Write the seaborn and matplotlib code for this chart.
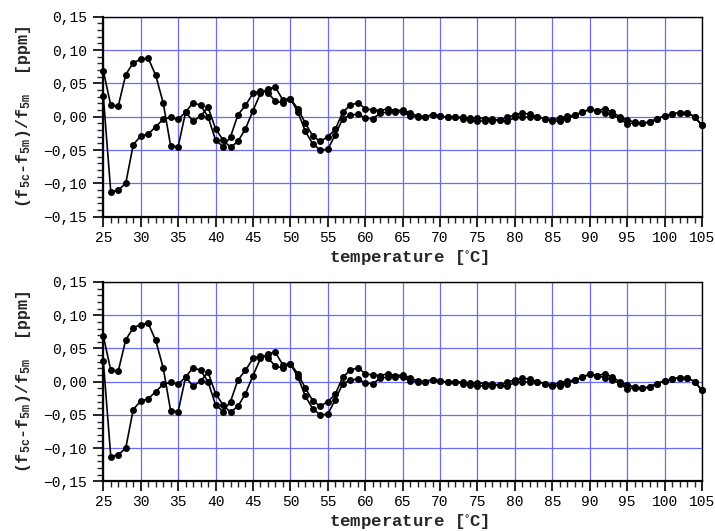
import numpy as np
import pandas as pd
import matplotlib
matplotlib.use("Agg")
import matplotlib.pyplot as plt
from matplotlib.ticker import MultipleLocator, FuncFormatter
import seaborn as sns

temperature = list(range(25, 106))

series_a = [0.069, 0.017, 0.016, 0.063, 0.081, 0.086, 0.088, 0.062, 0.021, -0.044,
            -0.045, 0.007, 0.021, 0.017, 0.000, -0.035, -0.045, -0.030, 0.003, 0.017,
            0.035, 0.039, 0.036, 0.023, 0.021, 0.027, 0.012, -0.010, -0.029, -0.037,
            -0.030, -0.019, 0.007, 0.017, 0.021, 0.012, 0.010, 0.009, 0.012, 0.009,
            0.010, 0.006, 0.001, 0.000, 0.003, 0.001, -0.001, 0.000, -0.001, -0.002,
            -0.002, -0.003, -0.004, -0.005, -0.001, 0.003, 0.005, 0.004, 0.000, -0.003,
            -0.005, -0.002, 0.001, 0.002, 0.007, 0.011, 0.009, 0.012, 0.007, 0.000,
            -0.005, -0.008, -0.010, -0.008, -0.003, 0.001, 0.004, 0.006, 0.006, 0.000,
            -0.013]

series_b = [0.031, -0.113, -0.110, -0.100, -0.042, -0.029, -0.026, -0.015, -0.004, -0.001,
            -0.004, 0.007, -0.007, 0.001, 0.014, -0.018, -0.035, -0.046, -0.037, -0.018,
            0.009, 0.035, 0.042, 0.044, 0.025, 0.027, 0.007, -0.022, -0.041, -0.050,
            -0.049, -0.027, -0.003, 0.002, 0.004, -0.002, -0.003, 0.005, 0.007, 0.007,
            0.007, 0.001, 0.000, 0.000, 0.003, 0.001, -0.001, 0.000, -0.003, -0.005,
            -0.007, -0.006, -0.006, -0.005, -0.007, -0.001, 0.000, -0.001, 0.000, -0.003,
            -0.007, -0.006, -0.003, 0.002, 0.007, 0.011, 0.009, 0.006, 0.003, -0.003,
            -0.011, -0.009, -0.010, -0.008, -0.003, 0.001, 0.004, 0.006, 0.006, 0.000,
            -0.013]

df = pd.DataFrame({
    "temperature": temperature * 2,
    "value": series_a + series_b,
    "series": ["a"] * len(series_a) + ["b"] * len(series_b),
})

sns.set_style("white")
plt.rcParams["font.family"] = ["Liberation Mono", "DejaVu Sans Mono"]
plt.rcParams["mathtext.default"] = "regular"

fig = plt.figure(figsize=(7.15, 5.31), dpi=100)
W, H = 715, 531
left = 103.3 / W
width = (702 - 103.3) / W
ax_top = fig.add_axes([left, 1 - 216.7 / H, width, 200 / H])
ax_bot = fig.add_axes([left, 1 - 481.3 / H, width, 199.3 / H])

fmt = FuncFormatter(lambda v, p: ("%.2f" % v).replace(".", ",").replace("-", "\u2212")
                    if abs(v) > 1e-9 else "0,00")

ylabel = r"(f$_{5c}$-f$_{5m}$)/f$_{5m}$  [ppm]"

for ax in (ax_top, ax_bot):
    for s in ("a", "b"):
        sns.lineplot(data=df[df["series"] == s], x="temperature", y="value", ax=ax,
                     color="black", marker="o", markersize=5, markeredgewidth=0,
                     linewidth=1.2, legend=False, zorder=3, clip_on=False)
    ax.set_xlim(25, 105)
    ax.set_ylim(-0.15, 0.15)
    ax.xaxis.set_major_locator(MultipleLocator(5))
    ax.xaxis.set_minor_locator(MultipleLocator(1))
    ax.yaxis.set_major_locator(MultipleLocator(0.05))
    ax.yaxis.set_minor_locator(MultipleLocator(0.01))
    ax.yaxis.set_major_formatter(fmt)
    ax.grid(True, which="major", color="#6a6aff", linewidth=0.9)
    ax.tick_params(axis="both", which="major", direction="out", length=7, width=1.2,
                   labelsize=10.5, colors="black", left=True, bottom=True)
    ax.tick_params(axis="both", which="minor", direction="out", length=4, width=1.0,
                   left=True, bottom=True)
    ax.tick_params(axis="y", which="major", pad=5)
    ax.tick_params(axis="x", which="major", pad=3)
    for side in ("left", "bottom"):
        ax.spines[side].set_linewidth(1.6)
        ax.spines[side].set_color("black")
    for side in ("top", "right"):
        ax.spines[side].set_linewidth(1.0)
        ax.spines[side].set_color("black")
    ax.set_xlabel(r"temperature [$^{\circ}$C]", fontsize=12.5, fontweight="bold", labelpad=2)
    ax.set_ylabel(ylabel, fontsize=12, fontweight="bold")
    ax.xaxis.set_label_coords(0.51, -0.155)
    ax.yaxis.set_label_coords(-0.118, 0.5)

fig.savefig("out.png", dpi=100)
